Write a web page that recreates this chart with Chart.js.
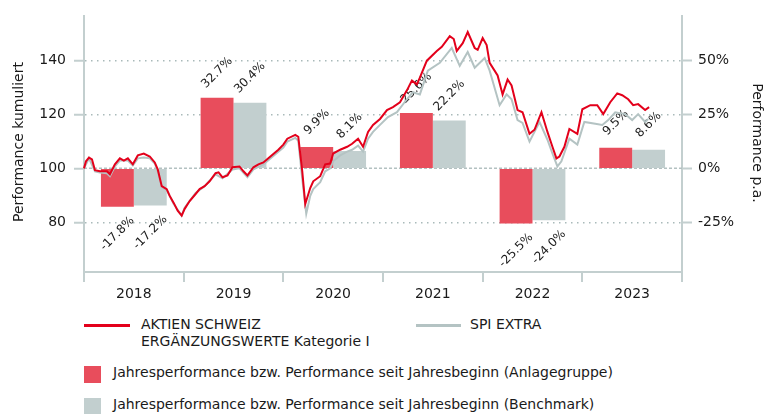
<!DOCTYPE html>
<html>
<head>
<meta charset="utf-8">
<script src="https://cdn.jsdelivr.net/npm/chart.js@4.4.0/dist/chart.umd.min.js"></script>
<style>
  body { margin: 0; background: #fff; }
  #wrap { position: relative; width: 765px; height: 414px; overflow: hidden; font-family: 'DejaVu Sans', sans-serif; font-size: 14px; color: #1a1a1a; }
  #chartBox { position: absolute; left: 0; top: 0; width: 765px; height: 300px; }
  .lg { position: absolute; line-height: 17px; white-space: nowrap; }
  .sw { position: absolute; }
</style>
</head>
<body>
<div id="wrap">
  <div id="chartBox"><canvas id="perfChart"></canvas></div>

  <div class="sw" style="left:84px; top:324px; width:46px; height:2.5px; background:#e3001b;"></div>
  <div class="lg" style="left:141px; top:316px;">AKTIEN SCHWEIZ<br>ERGÄNZUNGSWERTE Kategorie I</div>
  <div class="sw" style="left:416px; top:324px; width:45px; height:2.5px; background:#b4c3c3;"></div>
  <div class="lg" style="left:470px; top:316px;">SPI EXTRA</div>

  <div class="sw" style="left:84px; top:366px; width:17px; height:17px; background:#e84d5c;"></div>
  <div class="lg" style="left:113px; top:364px;">Jahresperformance bzw. Performance seit Jahresbeginn (Anlagegruppe)</div>
  <div class="sw" style="left:84px; top:398px; width:17px; height:17px; background:#c2cfcf;"></div>
  <div class="lg" style="left:113px; top:396px;">Jahresperformance bzw. Performance seit Jahresbeginn (Benchmark)</div>
</div>

<script>
(function() {
  'use strict';

  // categories + yearly performance (right axis, %)
  const years = ['2018', '2019', '2020', '2021', '2022', '2023'];
  const fundYearly = [-17.8, 32.7, 9.9, 25.6, -25.5, 9.5];
  const benchYearly = [-17.2, 30.4, 8.1, 22.2, -24.0, 8.6];

  // cumulative performance (left axis), time in decimal years
  const fundTime = [
    2018.00, 2018.02, 2018.05, 2018.08, 2018.11, 2018.16, 2018.23, 2018.26, 2018.31, 2018.36,
    2018.40, 2018.44, 2018.49, 2018.54, 2018.60, 2018.66, 2018.71, 2018.74, 2018.78, 2018.83,
    2018.86, 2018.90, 2018.94, 2018.98, 2019.01, 2019.06, 2019.12, 2019.16, 2019.21, 2019.26,
    2019.32, 2019.35, 2019.39, 2019.44, 2019.49, 2019.56, 2019.60, 2019.64, 2019.70, 2019.75,
    2019.80, 2019.87, 2019.95, 2020.00, 2020.04, 2020.12, 2020.15, 2020.19, 2020.22, 2020.27,
    2020.30, 2020.37, 2020.42, 2020.47, 2020.50, 2020.57, 2020.64, 2020.69, 2020.75, 2020.80,
    2020.85, 2020.90, 2020.97, 2021.04, 2021.10, 2021.17, 2021.24, 2021.29, 2021.34, 2021.37,
    2021.44, 2021.54, 2021.59, 2021.67, 2021.71, 2021.74, 2021.80, 2021.85, 2021.92, 2021.95,
    2022.00, 2022.04, 2022.07, 2022.15, 2022.20, 2022.25, 2022.29, 2022.35, 2022.40, 2022.47,
    2022.52, 2022.59, 2022.65, 2022.70, 2022.74, 2022.77, 2022.82, 2022.87, 2022.95, 2023.00,
    2023.08, 2023.15, 2023.21, 2023.28, 2023.35, 2023.40, 2023.46, 2023.51, 2023.56, 2023.63,
    2023.67
  ];
  const fundCum = [
    100.0, 102.6, 104.0, 103.3, 99.3, 98.9, 98.9, 97.8, 101.5, 103.7,
    102.9, 103.7, 101.5, 104.8, 105.5, 104.4, 102.2, 99.6, 93.4, 92.3,
    89.8, 87.2, 84.3, 82.5, 85.0, 87.9, 90.5, 92.3, 93.4, 95.2,
    98.2, 98.5, 96.7, 97.4, 100.4, 100.7, 98.9, 97.4, 100.4, 101.5,
    102.2, 104.4, 106.9, 108.8, 111.0, 112.4, 111.7, 98.9, 86.8, 92.7,
    95.2, 97.1, 101.5, 101.8, 105.5, 106.9, 108.0, 109.1, 111.0, 108.0,
    113.5, 116.1, 118.3, 121.6, 122.7, 124.5, 128.9, 132.5, 131.1, 133.6,
    139.9, 143.5, 145.0, 149.0, 147.9, 143.5, 146.4, 150.5, 144.6, 143.9,
    148.3, 145.7, 139.1, 134.4, 127.4, 132.9, 130.7, 121.6, 120.8, 112.8,
    114.3, 120.8, 113.5, 108.0, 103.7, 104.4, 108.0, 114.6, 112.8, 121.9,
    123.4, 123.4, 120.1, 124.5, 127.8, 127.1, 125.6, 123.4, 123.8, 121.6,
    122.7
  ];

  const benchTime = [
    2018.00, 2018.05, 2018.11, 2018.16, 2018.23, 2018.26, 2018.31, 2018.36, 2018.44, 2018.49,
    2018.54, 2018.60, 2018.66, 2018.71, 2018.74, 2018.78, 2018.83, 2018.90, 2018.98, 2019.01,
    2019.12, 2019.21, 2019.32, 2019.39, 2019.49, 2019.56, 2019.64, 2019.70, 2019.80, 2019.87,
    2019.95, 2020.00, 2020.04, 2020.12, 2020.15, 2020.19, 2020.23, 2020.27, 2020.30, 2020.37,
    2020.42, 2020.47, 2020.50, 2020.57, 2020.64, 2020.69, 2020.75, 2020.80, 2020.85, 2020.90,
    2020.97, 2021.05, 2021.14, 2021.24, 2021.30, 2021.37, 2021.45, 2021.57, 2021.69, 2021.77,
    2021.85, 2021.92, 2022.02, 2022.07, 2022.17, 2022.24, 2022.29, 2022.35, 2022.40, 2022.47,
    2022.57, 2022.65, 2022.70, 2022.75, 2022.79, 2022.87, 2022.95, 2023.02, 2023.13, 2023.20,
    2023.26, 2023.33, 2023.43, 2023.50, 2023.56, 2023.63, 2023.66
  ];
  const benchCum = [
    100.0, 103.7, 98.9, 98.5, 98.2, 97.1, 100.7, 102.9, 102.9, 101.1,
    103.7, 104.0, 103.7, 101.8, 98.9, 93.1, 92.0, 86.8, 82.5, 85.4,
    90.9, 93.4, 97.8, 96.3, 99.6, 100.0, 96.7, 99.6, 101.5, 103.7,
    106.2, 107.7, 109.9, 111.3, 110.2, 96.0, 83.2, 89.8, 92.3, 94.9,
    98.9, 100.0, 102.6, 104.8, 106.2, 106.9, 108.4, 106.2, 111.0, 113.5,
    116.1, 119.0, 120.8, 125.6, 128.2, 127.4, 136.2, 139.1, 144.6, 138.0,
    143.1, 137.3, 140.9, 136.2, 123.4, 127.4, 125.6, 117.9, 116.8, 109.9,
    117.2, 110.6, 105.5, 100.7, 102.6, 111.0, 108.8, 117.2, 116.5, 116.1,
    117.9, 120.8, 120.1, 117.9, 120.1, 117.2, 118.3
  ];

  const leftTicks = [80, 100, 120, 140];
  const rightTicks = [-25, 0, 25, 50];

  const RED_LINE = '#e3001b';
  const GREY_LINE = '#b4c3c3';
  const RED_BAR = '#e84d5c';
  const GREY_BAR = '#c2cfcf';
  const AXIS = '#c3cfcf';
  const GRID = '#a9baba';
  const TEXT = '#1a1a1a';
  const FONT = 'DejaVu Sans';

  Chart.defaults.font.family = FONT;
  Chart.defaults.font.size = 14;
  Chart.defaults.color = TEXT;

  // lines share the category axis: category index i is centred on year i,
  // so a decimal year maps to (t - firstYear - 0.5)
  const firstYear = Number(years[0]);
  function toPoints(xs, ys) {
    return xs.map((t, i) => ({ x: t - firstYear - 0.5, y: ys[i] }));
  }

  // bar value labels, zero line and axis titles
  const decorations = {
    id: 'decorations',
    beforeDatasetsDraw(chart) {
      const ctx = chart.ctx;
      const area = chart.chartArea;
      const y0 = chart.scales.yL.getPixelForValue(100);
      ctx.save();
      ctx.strokeStyle = '#b3c1c1';
      ctx.lineWidth = 1.5;
      ctx.setLineDash([3, 2]);
      ctx.beginPath();
      ctx.moveTo(area.left, y0);
      ctx.lineTo(area.right, y0);
      ctx.stroke();
      ctx.restore();
    },
    afterDatasetDraw(chart, args) {
      if (args.index !== 0) return;
      const ctx = chart.ctx;
      ctx.save();
      ctx.font = '12px "' + FONT + '"';
      ctx.fillStyle = TEXT;
      ctx.textAlign = 'center';
      ctx.textBaseline = 'middle';
      [0, 1].forEach(di => {
        const meta = chart.getDatasetMeta(di);
        const values = chart.data.datasets[di].data;
        meta.data.forEach((el, i) => {
          const v = values[i];
          const cy = v >= 0 ? el.y - 25 : el.y + 27;
          ctx.save();
          ctx.translate(el.x, cy);
          ctx.rotate(-Math.PI / 4);
          ctx.fillText(v.toFixed(1) + '%', 0, 0);
          ctx.restore();
        });
      });
      ctx.restore();
    },
    afterDraw(chart) {
      const ctx = chart.ctx;
      ctx.save();
      ctx.font = '14px "' + FONT + '"';
      ctx.fillStyle = TEXT;
      ctx.textAlign = 'center';
      ctx.textBaseline = 'middle';
      ctx.translate(19, 142);
      ctx.rotate(-Math.PI / 2);
      ctx.fillText('Performance kumuliert', 0, 0);
      ctx.restore();

      ctx.save();
      ctx.font = '14px "' + FONT + '"';
      ctx.fillStyle = TEXT;
      ctx.textAlign = 'center';
      ctx.textBaseline = 'middle';
      ctx.translate(757, 143);
      ctx.rotate(Math.PI / 2);
      ctx.fillText('Performance p.a.', 0, 0);
      ctx.restore();
    }
  };

  new Chart(document.getElementById('perfChart'), {
    type: 'bar',
    data: {
      labels: years,
      datasets: [
        {
          label: 'Jahresperformance (Anlagegruppe)',
          data: fundYearly,
          backgroundColor: RED_BAR,
          yAxisID: 'yR',
          categoryPercentage: 0.66,
          barPercentage: 1.0,
          order: 2
        },
        {
          label: 'Jahresperformance (Benchmark)',
          data: benchYearly,
          backgroundColor: GREY_BAR,
          yAxisID: 'yR',
          categoryPercentage: 0.66,
          barPercentage: 1.0,
          order: 2
        },
        {
          type: 'line',
          label: 'AKTIEN SCHWEIZ ERGÄNZUNGSWERTE Kategorie I',
          data: toPoints(fundTime, fundCum),
          parsing: false,
          borderColor: RED_LINE,
          borderWidth: 2,
          pointRadius: 0,
          tension: 0,
          yAxisID: 'yL',
          order: 0
        },
        {
          type: 'line',
          label: 'SPI EXTRA',
          data: toPoints(benchTime, benchCum),
          parsing: false,
          borderColor: GREY_LINE,
          borderWidth: 2,
          pointRadius: 0,
          tension: 0,
          yAxisID: 'yL',
          order: 1
        }
      ]
    },
    options: {
      responsive: true,
      maintainAspectRatio: false,
      animation: false,
      layout: { padding: { top: 13, left: 0, right: 0, bottom: 0 } },
      plugins: {
        legend: { display: false },
        tooltip: { enabled: false }
      },
      scales: {
        x: {
          type: 'category',
          position: 'bottom',
          offset: true,
          grid: {
            display: true,
            offset: true,
            drawOnChartArea: false,
            drawTicks: true,
            tickLength: 10,
            color: AXIS,
            lineWidth: 2
          },
          border: { display: true, color: AXIS, width: 2 },
          ticks: { color: TEXT, padding: 4, font: { size: 14 } },
          afterFit: s => { s.height = 28; }
        },
        yL: {
          position: 'left',
          min: 61.6,
          max: 156.3,
          afterBuildTicks: s => { s.ticks = leftTicks.map(v => ({ value: v })); },
          grid: {
            drawOnChartArea: true,
            color: c => (c.tick && c.tick.value === 100) ? 'rgba(0,0,0,0)' : GRID,
            lineWidth: 1.5,
            tickLength: 10,
            tickColor: AXIS,
            tickWidth: 2,
            tickBorderDash: [0, 0]
          },
          border: { display: true, color: AXIS, width: 2, dash: [1.5, 4.5] },
          ticks: { color: TEXT, padding: 8, font: { size: 14 } },
          afterFit: s => { s.width = 84; }
        },
        yR: {
          position: 'right',
          min: -48,
          max: 70.4,
          afterBuildTicks: s => { s.ticks = rightTicks.map(v => ({ value: v })); },
          grid: {
            drawOnChartArea: false,
            tickLength: 10,
            tickColor: AXIS,
            tickWidth: 2
          },
          border: { display: true, color: AXIS, width: 2 },
          ticks: { color: TEXT, padding: 6, font: { size: 14 }, callback: v => v + '%' },
          afterFit: s => { s.width = 83; }
        }
      }
    },
    plugins: [decorations]
  });
})();
</script>
</body>
</html>
